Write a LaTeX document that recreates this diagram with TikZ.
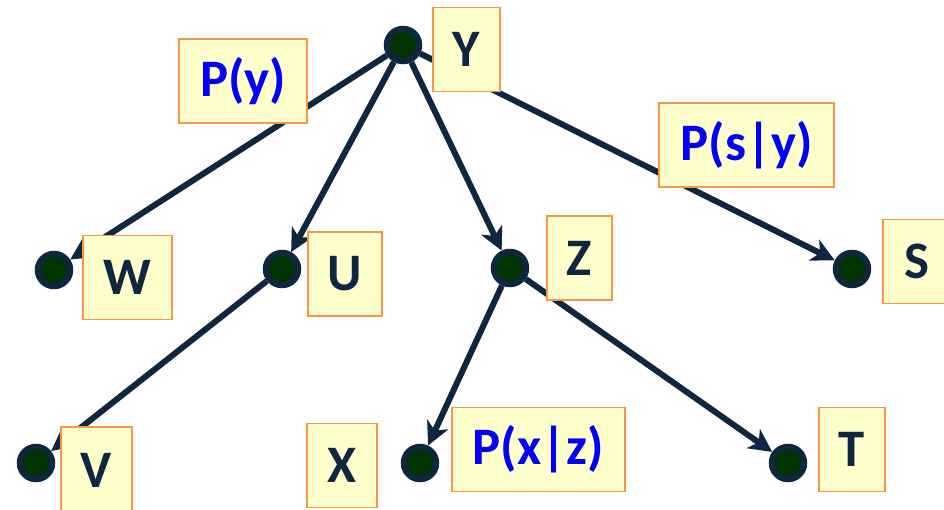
\documentclass[tikz,border=0pt]{standalone}
\usepackage{fontspec}
\setmainfont{Carlito}
\usetikzlibrary{arrows.meta}
\definecolor{ink}{HTML}{0F2641}
\definecolor{dot}{HTML}{003300}
\definecolor{boxfill}{HTML}{FFFFCC}
\definecolor{boxline}{HTML}{F79646}
\definecolor{prob}{HTML}{0000FF}

\begin{document}
\begin{tikzpicture}[x=0.02cm, y=-0.02cm,
          pt/.style={circle, draw=ink, fill=dot, line width=0.12cm, minimum size=0.65cm, inner sep=0pt},
          lbl/.style={draw=boxline, fill=boxfill, line width=0.035cm, inner sep=0pt,
                      minimum height=1.68cm, font=\fontsize{30}{31}\selectfont\bfseries, text=ink},
          prb/.style={lbl, text=prob},
          ar/.style={ink, line width=0.12cm, -{Stealth[length=0.46cm, width=0.46cm, inset=0.13cm]}}
        ]
        \useasboundingbox (0,0) rectangle (944,510);
        % tree points
        \node[pt] (y) at (403,45) {};
        \node[pt] (w) at (54,270) {};
        \node[pt] (u) at (282,269) {};
        \node[pt] (z) at (510,268) {};
        \node[pt] (s) at (852,269) {};
        \node[pt] (v) at (36,463) {};
        \node[pt] (x) at (420,463) {};
        \node[pt] (t) at (788,463) {};

        \draw[ar] (y) -- (w);
        \draw[ar] (y) -- (u);
        \draw[ar] (y) -- (z);
        \draw[ar] (y) -- (s);
        \draw[ar] (u) -- (v);
        \draw[ar] (z) -- (x);
        \draw[ar] (z) -- (t);

        % labels
        \node[lbl, minimum width=1.34cm] (ly) at (466.5,49.5) {Y};
        \node[prb, minimum width=2.56cm] (py) at (243,81) {P(y)};
        \node[lbl, minimum width=1.78cm] (lw) at (127.5,277.5) {W};
        \node[lbl, minimum width=1.48cm] (lu) at (345,274) {U};
        \node[lbl, minimum width=1.30cm] (lz) at (579.5,258) {Z};
        \node[prb, minimum width=3.50cm] (psy) at (746.5,145) {P(s|y)};
        \node[lbl, minimum width=1.34cm] (ls) at (916.5,261.5) {S};
        \node[lbl, minimum width=1.42cm, minimum height=1.72cm] (lv) at (96.5,470) {V};
        \node[lbl, minimum width=1.40cm] (lx) at (342,465.5) {X};
        \node[prb, minimum width=3.46cm] (pxz) at (538.5,449.5) {P(x|z)};
        \node[lbl, minimum width=1.32cm] (lt) at (852,449.5) {T};
      \end{tikzpicture}
\end{document}
